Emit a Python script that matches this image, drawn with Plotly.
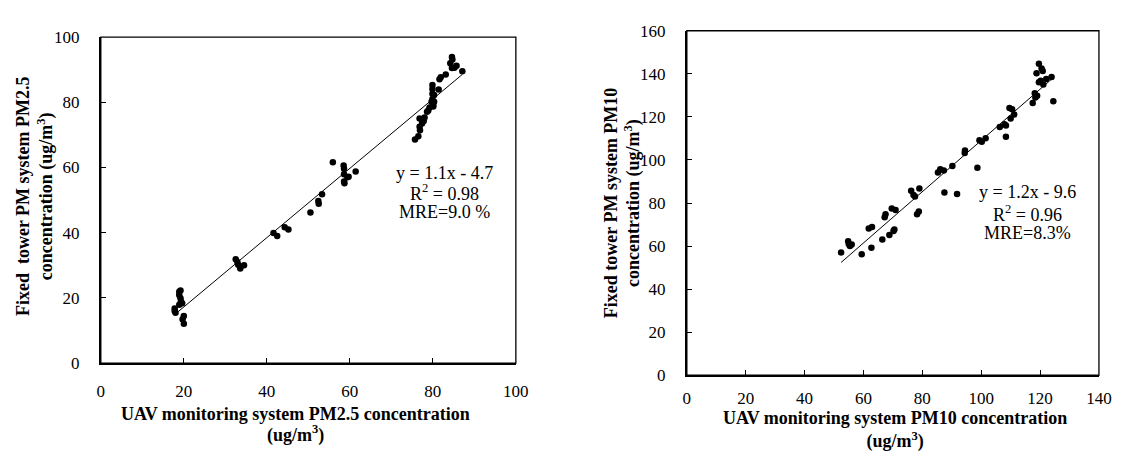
import numpy as np
import plotly.graph_objects as go

W, H = 1128, 453

# PM2.5: UAV monitoring system (x) vs fixed tower PM system (y), ug/m3
pm25_uav = [17.8, 17.8, 18.0, 18.9, 19.2, 18.9, 19.2, 19.3, 19.6, 18.9, 20.0, 19.7, 20.0,
            32.5, 32.9, 33.6, 34.5, 33.1,
            41.6, 42.5, 44.3, 45.2,
            50.5, 52.4, 52.5, 53.3,
            55.9, 58.5, 58.6, 58.6, 58.6, 58.7, 59.4, 59.7, 61.4,
            75.7, 76.5, 76.8, 76.9, 76.8, 77.4, 77.8, 78.0, 78.6, 78.9, 79.2, 79.7, 79.9,
            79.9, 79.9, 79.9, 80.1, 80.1, 80.3, 80.3, 81.4, 81.6, 81.9, 83.1, 84.2, 84.6,
            84.7, 84.6, 85.7, 87.1, 85.2]
pm25_tower = [16.0, 16.8, 15.5, 21.9, 22.3, 20.9, 19.9, 18.9, 18.4, 17.9, 14.5, 13.5, 12.1,
              31.9, 31.0, 29.0, 30.0, 30.2,
              39.9, 39.0, 41.7, 41.0,
              46.2, 49.7, 48.9, 51.8,
              61.6, 60.6, 59.6, 57.9, 55.7, 55.2, 57.0, 57.2, 58.8,
              68.6, 69.6, 72.5, 71.4, 75.0, 73.5, 74.3, 75.3, 77.1, 77.5, 78.4, 80.2, 81.0,
              82.6, 84.1, 85.3, 79.2, 78.7, 80.2, 82.2, 83.9, 87.1, 87.7, 88.5, 92.0, 93.9,
              93.1, 90.5, 91.2, 89.5, 90.6]

# PM10: UAV monitoring system (x) vs fixed tower PM system (y), ug/m3
pm10_uav = [52.4, 54.8, 55.0, 55.4, 56.0, 59.4, 61.8, 62.9, 62.7, 66.4, 67.2, 67.5, 68.8,
            70.2, 70.5, 69.6, 70.9, 76.2, 77.0, 77.5, 78.2, 78.8, 79.0, 85.3, 86.1, 87.3,
            87.5, 90.2, 91.8, 94.4, 94.5, 98.7, 99.4, 100.2, 101.5, 106.3, 107.9, 108.4,
            108.4, 109.6, 110.0, 110.5, 111.2, 117.5, 118.2, 118.4, 119.0, 118.8, 119.6,
            119.6, 120.2, 120.5, 120.9, 121.1, 122.1, 123.9, 124.5]
pm10_tower = [57.0, 62.2, 61.0, 60.0, 60.7, 56.2, 68.2, 68.9, 59.2, 63.1, 73.4, 74.8, 65.2,
              67.0, 67.7, 77.5, 76.7, 85.7, 83.7, 83.0, 74.8, 76.0, 86.7, 94.2, 95.7, 95.1,
              84.9, 97.2, 84.2, 103.2, 104.4, 96.4, 109.2, 108.4, 110.1, 115.3, 116.6, 116.0,
              110.8, 124.1, 119.3, 123.5, 121.1, 126.5, 131.0, 129.0, 129.8, 140.3, 144.7,
              136.1, 136.8, 142.5, 141.3, 135.0, 137.6, 138.5, 127.3]

stats25 = ["y = 1.1x - 4.7", "R<sup>2</sup> = 0.98", "MRE=9.0 %"]
stats10 = ["y = 1.2x - 9.6", "R<sup>2</sup> = 0.96", "MRE=8.3%"]

xtitle25 = ["UAV monitoring system PM2.5 concentration", "(ug/m<sup>3</sup>)"]
ytitle25 = ["Fixed\u00a0 tower PM system PM2.5", "concentration (ug/m<sup>3</sup>)"]
xtitle10 = ["UAV monitoring system PM10 concentration", "(ug/m<sup>3</sup>)"]
ytitle10 = ["Fixed tower PM system PM10", "concentration (ug/m<sup>3</sup>)"]

SERIF = "Liberation Serif"


def px_x(x):
    return x / W


def px_y(y):
    return 1 - y / H


def trend(xs, ys):
    slope, intercept = np.polyfit(xs, ys, 1)
    xl = np.array([min(xs), max(xs)])
    return xl, slope * xl + intercept


fig = go.Figure()

marker = dict(color="black", size=6.5)
fig.add_trace(go.Scatter(x=pm25_uav, y=pm25_tower, mode="markers", marker=marker,
                         xaxis="x", yaxis="y", showlegend=False))
tx, ty = trend(pm25_uav, pm25_tower)
fig.add_trace(go.Scatter(x=tx, y=ty, mode="lines", line=dict(color="black", width=1),
                         xaxis="x", yaxis="y", showlegend=False))

fig.add_trace(go.Scatter(x=pm10_uav, y=pm10_tower, mode="markers", marker=marker,
                         xaxis="x2", yaxis="y2", showlegend=False))
tx, ty = trend(pm10_uav, pm10_tower)
fig.add_trace(go.Scatter(x=tx, y=ty, mode="lines", line=dict(color="black", width=1),
                         xaxis="x2", yaxis="y2", showlegend=False))

fig.update_layout(
    width=W, height=H,
    margin=dict(l=0, r=0, t=0, b=0),
    font=dict(family=SERIF, size=17, color="black"),
    paper_bgcolor="white", plot_bgcolor="white",
    xaxis=dict(domain=[px_x(98.3), px_x(519.7)], range=[0, 100], dtick=20, anchor="y",
               ticklabelstandoff=11),
    yaxis=dict(domain=[px_y(369.7), px_y(29.3)], range=[0, 100], dtick=20, anchor="x",
               ticklabelstandoff=16),
    xaxis2=dict(domain=[px_x(693.3), px_x(1111.7)], range=[0, 140], dtick=20, anchor="y2",
                ticklabelstandoff=6),
    yaxis2=dict(domain=[px_y(382.3), px_y(22.7)], range=[0, 160], dtick=20, anchor="x2",
                ticklabelstandoff=16),
)

axis_style = dict(showgrid=False, zeroline=False, showline=True, linecolor="black",
                  linewidth=2, ticks="inside", ticklen=5, tickwidth=1, tickcolor="black",
                  mirror=False, fixedrange=True,
                  tickfont=dict(family=SERIF, size=17, color="black"))
fig.update_xaxes(**axis_style)
fig.update_yaxes(**axis_style)

# thin frame on the top and right sides of each panel
for xr, yr in (("x", "y"), ("x2", "y2")):
    fig.add_shape(type="rect", xref=f"{xr} domain", yref=f"{yr} domain",
                  x0=0, x1=1, y0=0, y1=1, line=dict(color="black", width=1.3),
                  layer="below")

title_font = dict(family=SERIF, size=18, color="black", weight="bold")
stat_font = dict(family=SERIF, size=18, color="black")


def add_text(text, x, y, font, angle=0):
    fig.add_annotation(text=text, x=px_x(x), y=px_y(y), xref="paper", yref="paper",
                       showarrow=False, xanchor="center", yanchor="middle",
                       textangle=angle, font=font)


# axis titles
add_text(xtitle25[0], 296, 423, title_font)
add_text(xtitle25[1], 296, 444, title_font)
add_text(ytitle25[0], 19.5, 195, title_font, -90)
add_text(ytitle25[1], 42, 195, title_font, -90)
add_text("<br>".join(xtitle10), 904.5, 439, title_font)
add_text(ytitle10[0], 616, 202, title_font, -90)
add_text(ytitle10[1], 638, 202, title_font, -90)

# regression statistics
for i, (yl, yr) in enumerate(zip((171.5, 191.5, 212), (191.5, 213, 234))):
    add_text(stats25[i], 447.6, yl, stat_font)
    add_text(stats10[i], 1039, yr, stat_font)

fig.write_html("out.html")
